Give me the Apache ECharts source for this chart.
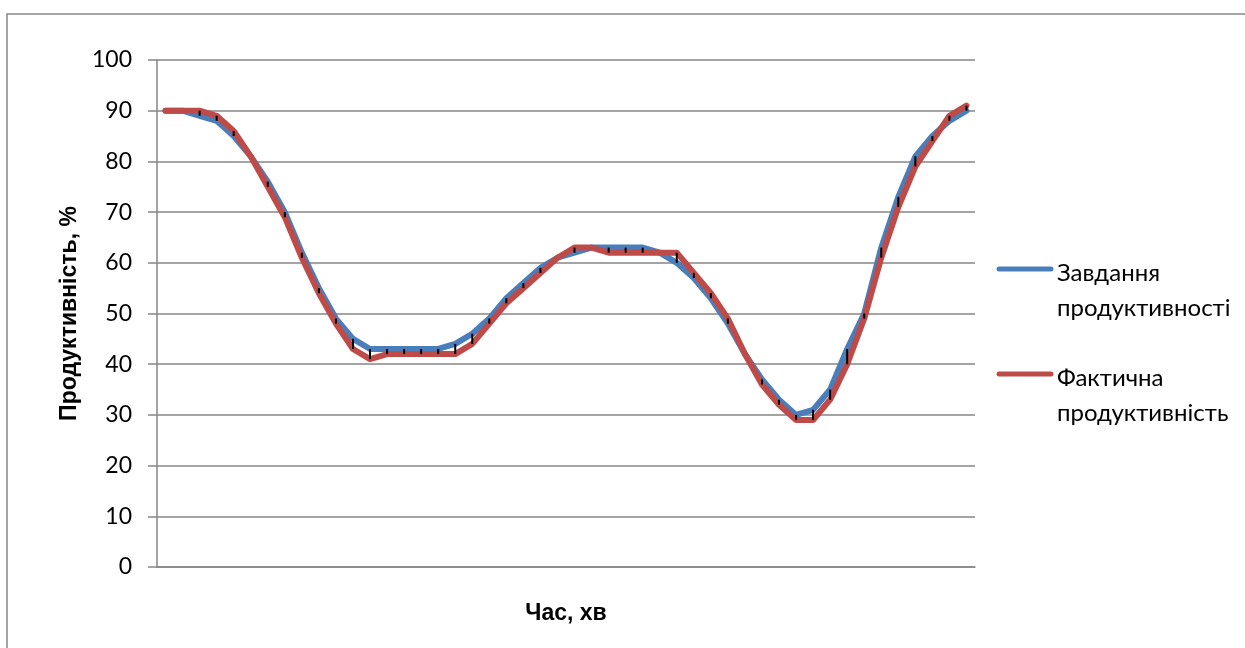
<!DOCTYPE html>
<html><head><meta charset="utf-8">
<script src="https://cdn.jsdelivr.net/npm/echarts@6/dist/echarts.min.js"></script>
<style>html,body{margin:0;padding:0;background:#fff}#c{width:1245px;height:648px}</style>
</head><body><div id="c"></div>
<script>
const categories = Array.from({length: 48}, (_, i) => String(i + 1));
const seriesNames = ['Завдання\nпродуктивності', 'Фактична\nпродуктивність'];
const planned = [90,90,89,88,85,81,76,70,62,55,49,45,43,43,43,43,43,44,46,49,53,56,59,61,62,63,63,63,63,62,60,57,53,48,42,37,33,30,31,35,43,50,63,73,81,85,88,90];
const actual  = [90,90,90,89,86,81,75,69,61,54,48,43,41,42,42,42,42,42,44,48,52,55,58,61,63,63,62,62,62,62,62,58,54,49,42,36,32,29,29,33,40,49,61,71,79,84,89,91];
const yTicks = {min: 0, max: 100, interval: 10};
const xTitle = 'Час, хв';
const yTitle = 'Продуктивність, %';
const colors = ['#4A7EBB', '#BE4B48'];

const chart = echarts.init(document.getElementById('c'), null, {renderer: 'canvas'});
const dropData = planned.map((v, i) => [i, v, actual[i]]);
const legendLineY = [269, 374];
const legendGraphics = [];
seriesNames.forEach((n, k) => {
  legendGraphics.push({type: 'line', shape: {x1: 999, y1: legendLineY[k], x2: 1051, y2: legendLineY[k]},
    style: {stroke: colors[k], lineWidth: 5, lineCap: 'round'}});
  legendGraphics.push({type: 'text', x: 1057, y: legendLineY[k] + 4 + 17.5,
    style: {text: n, font: '24px Lato', fill: '#000', lineHeight: 35, textVerticalAlign: 'middle'}});
});

chart.setOption({
  animation: false,
  backgroundColor: '#fff',
  grid: {left: 157, right: 270, top: 60, bottom: 81, containLabel: false},
  xAxis: {
    type: 'category', data: categories, boundaryGap: true,
    axisLine: {show: true, lineStyle: {color: '#868686', width: 1.5}},
    axisTick: {show: false}, axisLabel: {show: false}, splitLine: {show: false},
    name: xTitle, nameLocation: 'middle', nameGap: 35,
    nameTextStyle: {fontFamily: 'Liberation Sans', fontWeight: 'bold', fontSize: 23, color: '#000'}
  },
  yAxis: {
    type: 'value', min: yTicks.min, max: yTicks.max, interval: yTicks.interval,
    axisLine: {show: true, lineStyle: {color: '#868686', width: 1.5}},
    axisTick: {show: true, inside: false, length: 9, lineStyle: {color: '#868686', width: 1.5}},
    axisLabel: {fontFamily: 'Lato', fontSize: 23, color: '#000', margin: 25},
    splitLine: {show: true, lineStyle: {color: '#868686', width: 1.5}},
    name: yTitle, nameLocation: 'middle', nameGap: 68, nameRotate: 90,
    nameTextStyle: {fontFamily: 'Liberation Sans', fontWeight: 'bold', fontSize: 23, color: '#000'}
  },
  series: [
    {name: seriesNames[0], type: 'line', data: planned, symbol: 'none', z: 3,
     lineStyle: {color: colors[0], width: 6, cap: 'round', join: 'round'}},
    {name: seriesNames[1], type: 'line', data: actual, symbol: 'none', z: 4,
     lineStyle: {color: colors[1], width: 6, cap: 'round', join: 'round'}},
    {type: 'custom', z: 10, data: dropData,
     renderItem: (params, api) => {
       const p1 = api.coord([api.value(0), api.value(1)]);
       const p2 = api.coord([api.value(0), api.value(2)]);
       return {type: 'line', shape: {x1: p1[0], y1: p1[1], x2: p2[0], y2: p2[1]},
               style: {stroke: '#000', lineWidth: 2}};
     }}
  ],
  graphic: [
    {type: 'rect', shape: {x: 7, y: 14, width: 1300, height: 700}, style: {fill: 'none', stroke: '#868686', lineWidth: 1.5}, z: -1},
    ...legendGraphics
  ]
});
</script></body></html>
